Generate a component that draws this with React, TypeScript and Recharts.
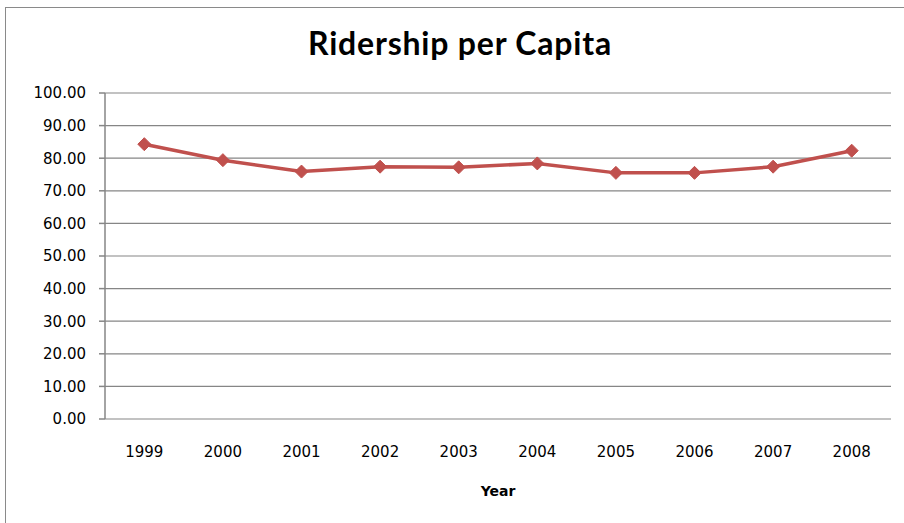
import React from 'react';
import { LineChart, Line, XAxis, YAxis, CartesianGrid, Label } from 'recharts';

// Ridership per capita, by year
const years = [1999, 2000, 2001, 2002, 2003, 2004, 2005, 2006, 2007, 2008];
const ridership = [84.3, 79.4, 75.9, 77.4, 77.2, 78.4, 75.5, 75.5, 77.4, 82.3];
const yTicks = [0, 10, 20, 30, 40, 50, 60, 70, 80, 90, 100];
// category boundaries, where Excel puts its tick marks
const boundaries = [1998.5, 1999.5, 2000.5, 2001.5, 2002.5, 2003.5, 2004.5, 2005.5, 2006.5, 2007.5, 2008.5];

const data = years.map((year, i) => ({ year, value: ridership[i] }));

const LINE_COLOR = '#C0504D';
const AXIS_COLOR = '#868686';
const TICK_FONT = { fontFamily: 'DejaVu Sans, Verdana, sans-serif', fontSize: 15, fill: '#000' };

const Diamond = (props: any) => {
    const { cx, cy } = props;
    if (cx == null || cy == null) return null;
    const r = 6.5;
    return (
        <polygon
            points={`${cx},${cy - r} ${cx + r},${cy} ${cx},${cy + r} ${cx - r},${cy}`}
            fill={LINE_COLOR}
            stroke={LINE_COLOR}
        />
    );
};

export default function App() {
    return (
        <div style={{ position: 'absolute', left: 0, top: 0, width: 904, height: 523, background: '#fff', overflow: 'hidden' }}>
            {/* chart frame */}
            <div
                style={{
                    position: 'absolute',
                    left: 5,
                    top: 7,
                    width: 910,
                    height: 530,
                    borderLeft: '1.5px solid #8a8a8a',
                    borderTop: '1.5px solid #8a8a8a',
                }}
            />
            <div
                style={{
                    position: 'absolute',
                    left: 0,
                    width: 920,
                    top: 23,
                    textAlign: 'center',
                    fontFamily: 'Lato, sans-serif',
                    fontWeight: 700,
                    fontSize: 32,
                    letterSpacing: 0.8,
                    color: '#000',
                }}
            >
                Ridership per Capita
            </div>
            <LineChart
                width={904}
                height={523}
                data={data}
                margin={{ top: 93, right: 13, bottom: 24, left: 10 }}
                style={{ position: 'absolute', left: 0, top: 0 }}
            >
                <CartesianGrid vertical={false} stroke={AXIS_COLOR} strokeWidth={1.2} />
                <XAxis
                    xAxisId="bounds"
                    dataKey="year"
                    type="number"
                    domain={[1998.5, 2008.5]}
                    ticks={boundaries}
                    tickFormatter={() => ''}
                    height={0}
                    tickSize={6}
                    stroke={AXIS_COLOR}
                    strokeWidth={1.5}
                    allowDataOverflow
                />
                <XAxis
                    xAxisId="years"
                    dataKey="year"
                    type="number"
                    domain={[1998.5, 2008.5]}
                    ticks={years}
                    axisLine={false}
                    tickLine={false}
                    tickMargin={21}
                    height={80}
                    tick={TICK_FONT}
                    interval={0}
                >
                    <Label
                        value="Year"
                        position="insideBottom"
                        offset={3}
                        style={{ fontFamily: 'DejaVu Sans, Verdana, sans-serif', fontSize: 14, fontWeight: 700, fill: '#000' }}
                    />
                </XAxis>
                <YAxis
                    domain={[0, 100]}
                    ticks={yTicks}
                    width={95}
                    tickSize={6}
                    tickMargin={13}
                    tickFormatter={(v: number) => v.toFixed(2)}
                    stroke={AXIS_COLOR}
                    strokeWidth={1.5}
                    tick={TICK_FONT}
                    interval={0}
                />
                <Line
                    xAxisId="years"
                    type="linear"
                    dataKey="value"
                    stroke={LINE_COLOR}
                    strokeWidth={3.5}
                    dot={<Diamond />}
                    activeDot={false}
                    isAnimationActive={false}
                />
            </LineChart>
        </div>
    );
}
